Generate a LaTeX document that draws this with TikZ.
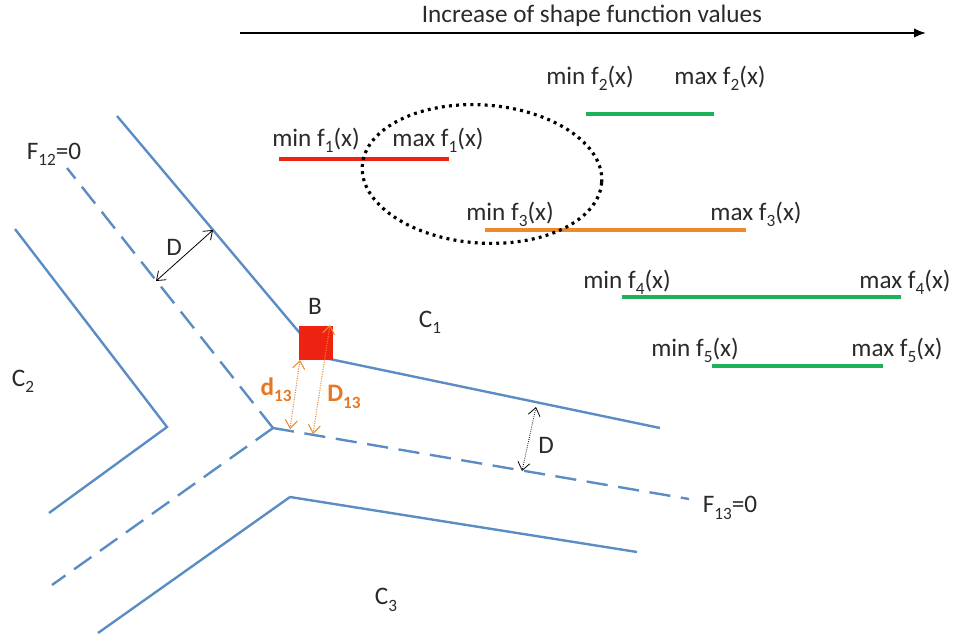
\documentclass[tikz,border=0pt]{standalone}
\usepackage{fontspec}
\setmainfont{Carlito}
\usetikzlibrary{arrows.meta}
\definecolor{lblue}{HTML}{5B8CC4}
\definecolor{lred}{HTML}{EE2211}
\definecolor{lgreen}{HTML}{1DB25A}
\definecolor{lorange}{HTML}{EE8A2A}
\definecolor{dorange}{HTML}{E87722}
\definecolor{txt}{HTML}{2A2A2A}
\newcommand{\sbs}[1]{\raisebox{-0.25em}{\fontsize{13}{13}\selectfont #1}}
\tikzset{
  lbl/.style={text=txt,font=\fontsize{19}{21}\selectfont,inner sep=1pt},
  band/.style={draw=lblue,line width=1.8pt},
  axis/.style={draw=lblue,line width=1.8pt,dash pattern=on 16pt off 8pt},
  rng/.style={line width=2.7pt},
  dim/.style={draw=black,line width=0.6pt,{Straight Barb[length=6pt,width=9pt]}-{Straight Barb[length=6pt,width=9pt]}},
  odim/.style={draw=lorange,line width=0.8pt,densely dotted,{Straight Barb[length=6pt,width=9pt]}-{Straight Barb[length=6pt,width=9pt]}},
  olbl/.style={text=dorange,font=\bfseries\fontsize{19}{21}\selectfont,inner sep=1pt}
}
\begin{document}
\begin{tikzpicture}[x=0.0265cm,y=-0.0265cm]
\useasboundingbox (0,0) rectangle (954,636);
% top arrow
\coordinate (ta) at (240,33);
\coordinate (tb) at (926,33);
\draw[line width=1.3pt,-{Latex[length=9pt,width=7pt]}] (ta) -- (tb);
\node[lbl] (title) at (592,16) {Increase of shape function values};
% ranges
\node[lbl] (min2) at (590,78) {min f\sbs{2}(x)};
\node[lbl] (max2) at (720,78) {max f\sbs{2}(x)};
\coordinate (r2a) at (586,114); \coordinate (r2b) at (714,114);
\draw[rng,lgreen] (r2a) -- (r2b);
\node[lbl] (min1) at (316,140) {min f\sbs{1}(x)};
\node[lbl] (max1) at (438,140) {max f\sbs{1}(x)};
\coordinate (r1a) at (279,159); \coordinate (r1b) at (449,159);
\draw[rng,lred] (r1a) -- (r1b);
\node[lbl] (min3) at (510,214) {min f\sbs{3}(x)};
\node[lbl] (max3) at (756,214) {max f\sbs{3}(x)};
\coordinate (r3a) at (485,230); \coordinate (r3b) at (746,230);
\draw[rng,lorange] (r3a) -- (r3b);
\node[lbl] (min4) at (627,282) {min f\sbs{4}(x)};
\node[lbl] (max4) at (905,282) {max f\sbs{4}(x)};
\coordinate (r4a) at (622,297); \coordinate (r4b) at (901,297);
\draw[rng,lgreen] (r4a) -- (r4b);
\node[lbl] (min5) at (695,350) {min f\sbs{5}(x)};
\node[lbl] (max5) at (897,350) {max f\sbs{5}(x)};
\coordinate (r5a) at (712,366); \coordinate (r5b) at (883,366);
\draw[rng,lgreen] (r5a) -- (r5b);
% dotted ellipse
\coordinate (ec) at (482,174);
\draw[black,line width=2.4pt,dash pattern=on 2.2pt off 3.2pt,rotate around={-4:(ec)}] (ec) ellipse [x radius=3.18cm,y radius=1.83cm];
% band lines
\coordinate (u1) at (117,116);
\coordinate (uc) at (320,357);
\coordinate (u2) at (660,428);
\draw[band] (u1) -- (uc) -- (u2);
\coordinate (c2a) at (15,229);
\coordinate (c2v) at (167,427);
\coordinate (c2b) at (49,513);
\draw[band] (c2a) -- (c2v) -- (c2b);
\coordinate (c3a) at (98,633);
\coordinate (c3v) at (290,497);
\coordinate (c3b) at (637,552);
\draw[band] (c3a) -- (c3v) -- (c3b);
% dashed axes
\coordinate (J) at (273,428);
\coordinate (f12) at (67,168);
\coordinate (f13) at (689,499);
\coordinate (f23) at (52,585);
\draw[axis] (J) -- (f12);
\draw[axis] (J) -- (f13);
\draw[axis] (J) -- (f23);
% labels
\node[lbl] (F12) at (54,154) {F\sbs{12}=0};
\node[lbl] (F13) at (730,508) {F\sbs{13}=0};
\node[lbl] (C1) at (430,322) {C\sbs{1}};
\node[lbl] (C2) at (23,381) {C\sbs{2}};
\node[lbl] (C3) at (386,600) {C\sbs{3}};
% B
\node[fill=lred,minimum size=0.9cm,inner sep=0pt] (Bsq) at (316,343) {};
\node[lbl] (Blbl) at (315,306) {B};
% D arrows
\coordinate (d1a) at (156,281); \coordinate (d1b) at (213,230);
\draw[dim] (d1a) -- (d1b);
\node[lbl] (D1) at (174,247) {D};
\coordinate (d2a) at (536,407); \coordinate (d2b) at (522,471);
\draw[dim,densely dotted] (d2a) -- (d2b);
\node[lbl] (D2) at (546,445) {D};
% orange dims
\coordinate (o1a) at (300,360); \coordinate (o1b) at (290,429);
\draw[odim] (o1a) -- (o1b);
\coordinate (o2a) at (330,325); \coordinate (o2b) at (313,434);
\draw[odim] (o2a) -- (o2b);
\node[olbl] (d13) at (276,390) {d\sbs{13}};
\node[olbl] (D13) at (344,397) {D\sbs{13}};
\end{tikzpicture}
\end{document}
